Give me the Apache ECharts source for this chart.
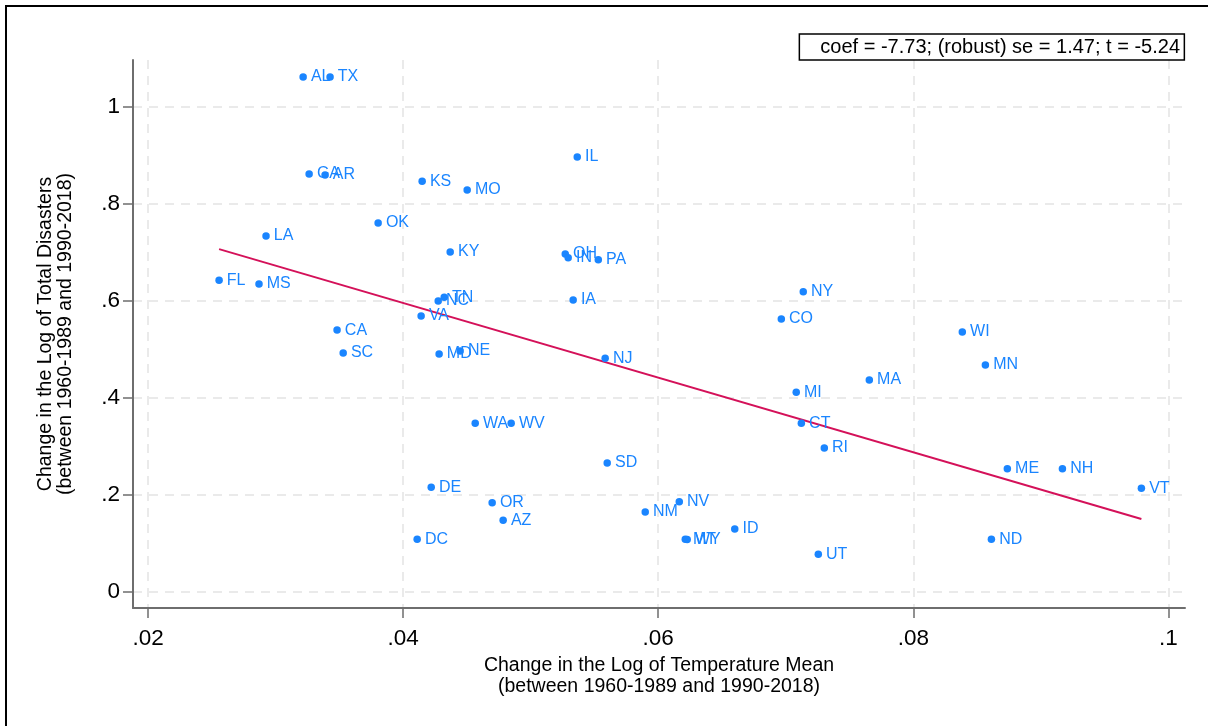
<!DOCTYPE html>
<html>
<head>
<meta charset="utf-8">
<script src="https://cdn.jsdelivr.net/npm/echarts@6/dist/echarts.min.js"></script>
<style>
html,body{margin:0;padding:0;background:#fff;}
#chart{width:1208px;height:726px;}
</style>
</head>
<body>
<div id="chart"></div>
<script>
const states = ['AL','TX','GA','AR','KS','MO','OK','LA','IL','KY','OH','IN','PA','FL','MS','TN','NC','IA','VA','NY','CO','CA','SC','WI','MN','MD','NE','NJ','MA','MI','CT','RI','WA','WV','SD','ME','NH','VT','DE','OR','NV','NM','AZ','ID','MT','WY','DC','ND','UT'];
const tempChange = [0.03216,0.03427,0.03263,0.03388,0.04149,0.04502,0.03804,0.02925,0.05365,0.04369,0.05271,0.05294,0.0553,0.02557,0.0287,0.04322,0.04275,0.05333,0.04141,0.07137,0.06965,0.03482,0.0353,0.08384,0.08565,0.04282,0.04447,0.05584,0.07655,0.07082,0.07122,0.07302,0.04565,0.04847,0.0560,0.08737,0.09169,0.09788,0.0422,0.04698,0.06165,0.05898,0.04784,0.0660,0.06212,0.06227,0.0411,0.08612,0.07255];
const disasterChange = [1.062,1.062,0.862,0.860,0.847,0.829,0.761,0.734,0.897,0.701,0.697,0.689,0.685,0.643,0.635,0.608,0.600,0.602,0.569,0.619,0.563,0.540,0.493,0.536,0.468,0.491,0.497,0.482,0.437,0.412,0.348,0.297,0.348,0.348,0.266,0.254,0.254,0.214,0.216,0.184,0.186,0.165,0.148,0.130,0.109,0.108,0.109,0.109,0.078];
const fitX = [0.02557, 0.09788];
const fitY = [0.707, 0.1505];
const xTicks = [0.02, 0.04, 0.06, 0.08, 0.1];
const yTicks = [0, 0.2, 0.4, 0.6, 0.8, 1];
const statText = 'coef = -7.73; (robust) se = 1.47; t = -5.24';
const xTitle = 'Change in the Log of Temperature Mean\n(between 1960-1989 and 1990-2018)';
const yTitle = 'Change in the Log of Total Disasters\n(between 1960-1989 and 1990-2018)';

const fmt = v => { const s = String(+v.toFixed(4)); return s.replace(/^0\./, '.').replace(/^-0\./, '-.'); };
const pts = states.map((s, i) => ({ name: s, value: [tempChange[i], disasterChange[i]] }));
const fitData = fitX.map((x, i) => [x, fitY[i]]);

const blue = '#1a85ff';
const red = '#d41159';
const axisGray = '#6e6e6e';
const gridStyle = { show: true, lineStyle: { color: '#e4e4e4', width: 1.5, type: [9, 7] } };
const font = "'Liberation Sans', Arial, sans-serif";

const chart = echarts.init(document.getElementById('chart'), null, { renderer: 'canvas' });
chart.setOption({
  backgroundColor: '#fff',
  animation: false,
  graphic: [{
    type: 'rect', silent: true, z: 100,
    shape: { x: 6, y: 6, width: 1220, height: 740 },
    style: { fill: 'none', stroke: '#000', lineWidth: 2 }
  }],
  title: {
    text: statText,
    right: 23, top: 34,
    borderColor: '#000', borderWidth: 1.5,
    padding: [3, 5, 2, 21],
    textStyle: { fontFamily: font, fontSize: 20, fontWeight: 'normal', color: '#000', lineHeight: 21 }
  },
  grid: { left: 133, right: 23, top: 60, bottom: 118 },
  xAxis: {
    type: 'value', min: 0.01882, max: 0.1013,
    name: xTitle, nameLocation: 'middle', nameGap: 47,
    nameTextStyle: { fontFamily: font, fontSize: 19.5, color: '#000', lineHeight: 21 },
    axisLine: { show: true, onZero: false, lineStyle: { color: axisGray, width: 2 } },
    axisTick: { show: true, length: 10, customValues: xTicks, lineStyle: { color: axisGray, width: 1.5 } },
    axisLabel: { customValues: xTicks, formatter: fmt, margin: 19, fontFamily: font, fontSize: 22.5, color: '#000', showMinLabel: true, showMaxLabel: true },
    splitLine: gridStyle
  },
  yAxis: {
    type: 'value', min: -0.033, max: 1.097,
    name: yTitle, nameLocation: 'middle', nameGap: 57, nameRotate: 90,
    nameTextStyle: { fontFamily: font, fontSize: 19.5, color: '#000', lineHeight: 20 },
    axisLine: { show: true, onZero: false, lineStyle: { color: axisGray, width: 2 } },
    axisTick: { show: true, length: 10, customValues: yTicks, lineStyle: { color: axisGray, width: 1.5 } },
    axisLabel: { customValues: yTicks, formatter: fmt, margin: 13, fontFamily: font, fontSize: 22.5, color: '#000' },
    splitLine: gridStyle
  },
  series: [
    {
      type: 'line', data: fitData, showSymbol: false, symbol: 'none',
      lineStyle: { color: red, width: 2 }, z: 3, silent: true
    },
    {
      type: 'scatter', data: pts, symbol: 'circle', symbolSize: 7.5,
      itemStyle: { color: blue, opacity: 1 }, z: 4,
      label: {
        show: true, position: 'right', distance: 4,
        formatter: p => p.name, color: blue, fontFamily: font, fontSize: 16
      },
      labelLayout: { hideOverlap: false }
    }
  ]
});
</script>
</body>
</html>
